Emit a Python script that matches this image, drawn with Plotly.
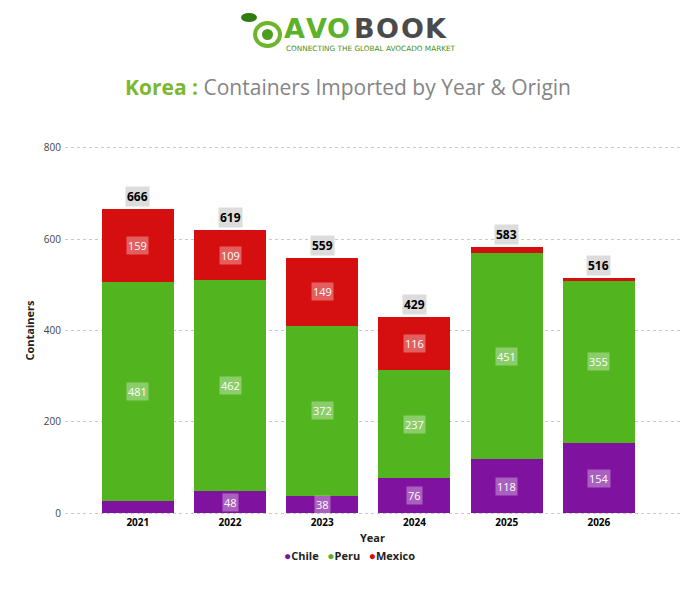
import plotly.graph_objects as go

years = ["2021", "2022", "2023", "2024", "2025", "2026"]
chile = [26, 48, 38, 76, 118, 154]
peru = [481, 462, 372, 237, 451, 355]
mexico = [159, 109, 149, 116, 14, 7]
series = [("Chile", chile, "#7f139f"), ("Peru", peru, "#52b520"), ("Mexico", mexico, "#d50f0f")]
min_label = 30

fig = go.Figure()
for name, vals, col in series:
    fig.add_trace(go.Bar(x=years, y=vals, name=name, marker=dict(color=col, line=dict(width=0)),
                         hoverinfo="x+y+name", showlegend=False))

# segment labels
base = [0] * len(years)
for name, vals, col in series:
    for i, v in enumerate(vals):
        if v >= min_label:
            fig.add_annotation(x=i, y=base[i] + v / 2, text=str(v), showarrow=False,
                               font=dict(family="Open Sans", size=11, color="white"),
                               bgcolor="rgba(255,255,255,0.33)", borderpad=1, xref="x", yref="y")
        base[i] += v
# totals
for i, t in enumerate(base):
    fig.add_annotation(x=i, y=t, text="<b>%d</b>" % t, showarrow=False, yanchor="bottom", yshift=2,
                       font=dict(family="Open Sans", size=12, color="black"),
                       bgcolor="#dcdcdc", borderpad=1, xref="x", yref="y")

fig.update_layout(
    width=700, height=593,
    barmode="stack", bargap=0.22,
    plot_bgcolor="white", paper_bgcolor="white",
    margin=dict(l=65, r=20, t=146, b=78),
    font=dict(family="Open Sans", color="#444"),
    showlegend=False,
    xaxis=dict(type="category", range=[-0.79, 5.88], showgrid=False, showline=False, zeroline=False,
               tickfont=dict(family="Open Sans", size=10, color="black"), ticks="",
               tickvals=years, ticktext=["<b>%s</b>" % y for y in years],
               title=dict(text="<b>Year</b>", font=dict(size=11, color="#222"), standoff=6)),
    yaxis=dict(range=[-4, 804], tickvals=[0, 200, 400, 600, 800], showgrid=True, gridcolor="#c8c8c8",
               griddash="3px,3px", gridwidth=1, zeroline=False, showline=False,
               tickfont=dict(family="Open Sans", size=10, color="#444"), ticks="", ticklabelstandoff=3,
               title=dict(text="<b>Containers</b>", font=dict(size=11, color="#222"), standoff=6)),
)

def px_x(px):
    return (px - 65) / 615.0
def px_y(py):
    return (515 - py) / 369.0

# legend (manual, compact circles)
leg = "   ".join("<span style='color:%s;font-size:12px'>●</span><b>%s</b>" % (c, n) for n, _, c in series)
fig.add_annotation(xref="paper", yref="paper", x=px_x(349), xanchor="center", y=px_y(555), yanchor="middle",
                   text=leg, font=dict(family="Open Sans", size=11, color="#222"), showarrow=False)

# title
fig.add_annotation(xref="paper", yref="paper", x=px_x(348), xanchor="center", y=px_y(87), yanchor="middle",
                   text="<b><span style='color:#7cb82f'>Korea :</span></b> Containers Imported by Year & Origin",
                   font=dict(family="Open Sans", size=21, color="#858585"), showarrow=False)

# logo
letters = ["A", "V", "O", "B", "O", "O", "K"]
centers = [294, 316, 338, 364, 388, 412, 436]
for k, (ch, cx) in enumerate(zip(letters, centers)):
    fig.add_annotation(xref="paper", yref="paper", x=px_x(cx), xanchor="center", y=px_y(29), yanchor="middle",
                       text="<b>%s</b>" % ch, showarrow=False,
                       font=dict(family="DejaVu Sans", size=27, color="#5cb22a" if k < 3 else "#4a4a4a"))
fig.add_annotation(xref="paper", yref="paper", x=px_x(371), xanchor="center", y=px_y(48), yanchor="middle",
                   text="CONNECTING THE GLOBAL AVOCADO MARKET",
                   font=dict(family="DejaVu Sans", size=7.3, color="#3f8f1a"), showarrow=False)
# avocado icon
fig.add_shape(type="circle", xref="paper", yref="paper", x0=px_x(253), x1=px_x(282), y0=px_y(48), y1=px_y(21),
              fillcolor="#6cb52c", line=dict(width=0))
fig.add_shape(type="circle", xref="paper", yref="paper", x0=px_x(257), x1=px_x(278), y0=px_y(44), y1=px_y(25),
              fillcolor="white", line=dict(width=0))
fig.add_shape(type="circle", xref="paper", yref="paper", x0=px_x(262), x1=px_x(273), y0=px_y(40), y1=px_y(29),
              fillcolor="#4f9d1f", line=dict(width=0))
fig.add_shape(type="circle", xref="paper", yref="paper", x0=px_x(241), x1=px_x(257), y0=px_y(22), y1=px_y(13),
              fillcolor="#2f7d12", line=dict(width=0))

fig.write_html("out.html")
